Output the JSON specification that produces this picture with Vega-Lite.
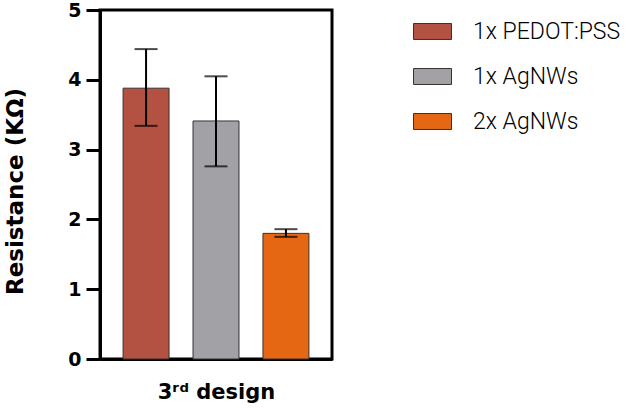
{
  "$schema": "https://vega.github.io/schema/vega-lite/v6.json",
  "width": 232,
  "height": 349,
  "autosize": {"type": "none"},
  "padding": {"left": 100, "top": 10, "right": 298, "bottom": 49},
  "background": "white",
  "data": {
    "values": [
      {"group": "1x PEDOT:PSS", "mean": 3.88, "lo": 3.34, "hi": 4.44},
      {"group": "1x AgNWs", "mean": 3.41, "lo": 2.76, "hi": 4.05},
      {"group": "2x AgNWs", "mean": 1.80, "lo": 1.75, "hi": 1.86}
    ]
  },
  "config": {
    "view": {"stroke": "black", "strokeWidth": 3},
    "axis": {"grid": false}
  },
  "encoding": {
    "x": {
      "field": "group",
      "type": "nominal",
      "sort": ["1x PEDOT:PSS", "1x AgNWs", "2x AgNWs"],
      "scale": {"paddingInner": 0.343, "paddingOuter": 0.33},
      "axis": {
        "title": "3ʳᵈ   design",
        "labels": false,
        "ticks": false,
        "domainColor": "black",
        "domainWidth": 3,
        "titleFont": "DejaVu Sans",
        "titleFontWeight": "bold",
        "titleFontSize": 21,
        "titleColor": "black",
        "titlePadding": 22
      }
    }
  },
  "layer": [
    {
      "mark": {"type": "bar", "stroke": "#3a3030", "strokeWidth": 1},
      "encoding": {
        "y": {
          "field": "mean",
          "type": "quantitative",
          "scale": {"domain": [0, 5], "nice": false},
          "axis": {
            "title": "Resistance (KΩ)",
            "values": [0, 1, 2, 3, 4, 5],
            "format": "d",
            "domainColor": "black",
            "domainWidth": 3,
            "tickColor": "black",
            "tickWidth": 3,
            "tickSize": 14,
            "labelPadding": 5,
            "labelFont": "DejaVu Sans",
            "labelFontWeight": "bold",
            "labelFontSize": 19,
            "labelColor": "black",
            "titleFont": "DejaVu Sans",
            "titleFontWeight": "bold",
            "titleFontSize": 23,
            "titleColor": "black",
            "titlePadding": 40,
            "titleY": 181
          }
        },
        "fill": {
          "field": "group",
          "type": "nominal",
          "sort": ["1x PEDOT:PSS", "1x AgNWs", "2x AgNWs"],
          "scale": {
            "domain": ["1x PEDOT:PSS", "1x AgNWs", "2x AgNWs"],
            "range": ["#B35142", "#A2A1A5", "#E56714"]
          },
          "legend": {
            "title": null,
            "orient": "none",
            "legendX": 313,
            "legendY": 2,
            "padding": 0,
            "symbolType": "M-1,-0.42H1V0.42H-1Z",
            "symbolSize": 1444,
            "symbolStrokeColor": "#3a3030",
            "symbolStrokeWidth": 1,
            "symbolOpacity": 1,
            "labelFont": "Roboto",
            "labelFontWeight": 300,
            "labelFontSize": 23,
            "labelColor": "black",
            "labelOffset": 21,
            "labelLimit": 300,
            "rowPadding": 13
          }
        }
      }
    },
    {
      "mark": {"type": "rule", "color": "black", "strokeWidth": 2},
      "encoding": {
        "y": {"field": "lo", "type": "quantitative"},
        "y2": {"field": "hi"}
      }
    },
    {
      "mark": {"type": "tick", "color": "black", "size": 23, "thickness": 2},
      "encoding": {"y": {"field": "hi", "type": "quantitative"}}
    },
    {
      "mark": {"type": "tick", "color": "black", "size": 23, "thickness": 2},
      "encoding": {"y": {"field": "lo", "type": "quantitative"}}
    }
  ]
}
